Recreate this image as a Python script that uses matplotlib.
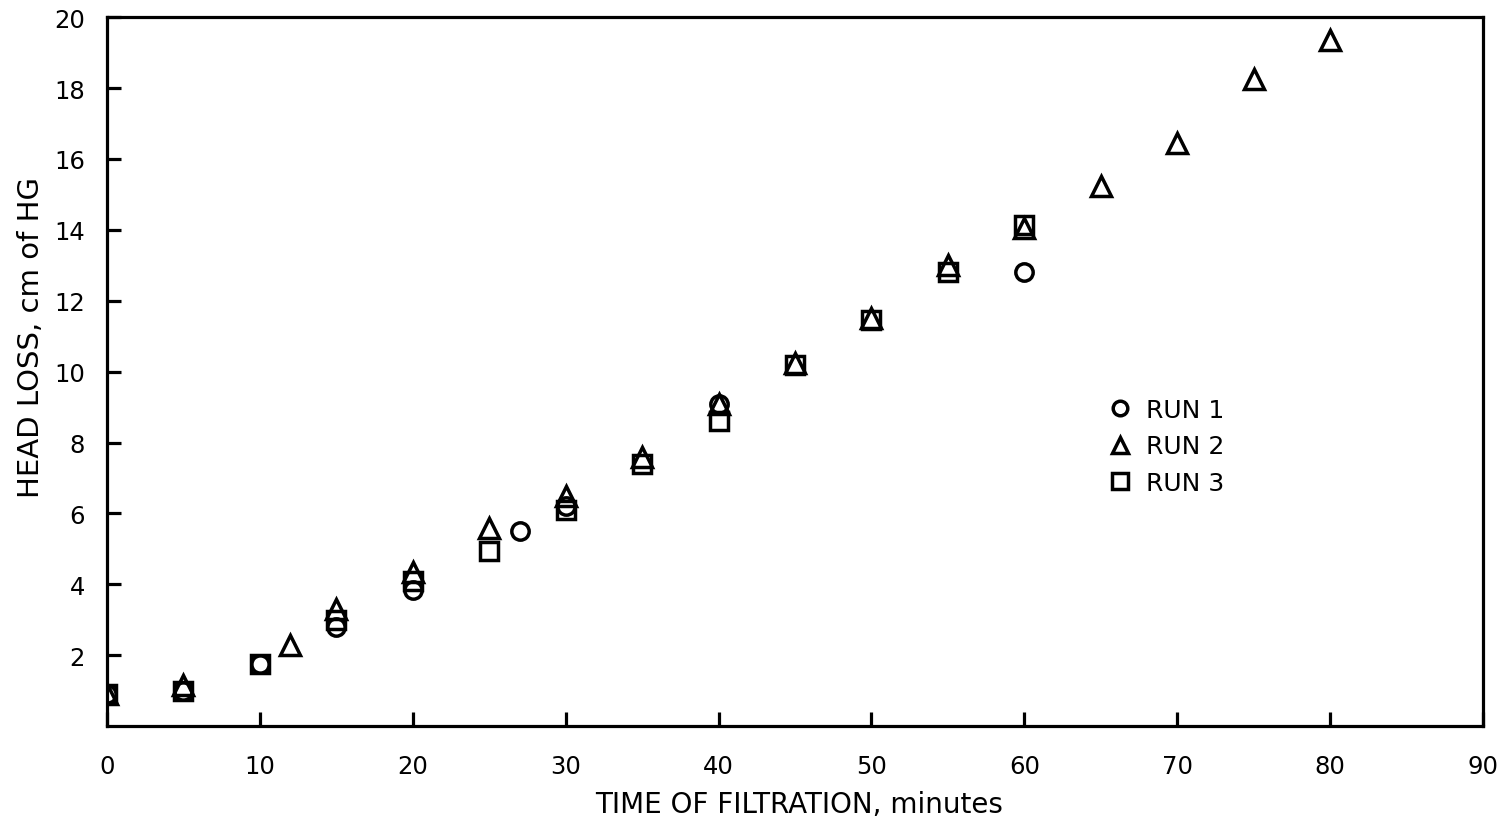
import matplotlib
matplotlib.use('Agg')
from matplotlib import pyplot as plt
from matplotlib.lines import Line2D

# head loss readings, cm of Hg, against filtration time in minutes
run1_time = [0, 5, 10, 15, 20, 27, 30, 40, 60]
run1_loss = [0.9, 1.0, 1.75, 2.8, 3.85, 5.5, 6.2, 9.1, 12.8]

run2_time = [0, 5, 12, 15, 20, 25, 30, 35, 40, 45, 50, 55, 60, 65, 70, 75, 80]
run2_loss = [0.9, 1.15, 2.3, 3.3, 4.35, 5.6, 6.5, 7.6, 9.1, 10.25, 11.5, 13.0, 14.05, 15.25, 16.45, 18.25, 19.35]

run3_time = [0, 5, 10, 15, 20, 25, 30, 35, 40, 45, 50, 55, 60]
run3_loss = [0.9, 1.0, 1.75, 3.0, 4.1, 4.95, 6.1, 7.4, 8.6, 10.2, 11.45, 12.8, 14.15]

run_names = ['RUN 1', 'RUN 2', 'RUN 3']
x_ticks = [0, 10, 20, 30, 40, 50, 60, 70, 80, 90]
y_ticks = [2, 4, 6, 8, 10, 12, 14, 16, 18, 20]

plt.rcParams['font.family'] = ['DejaVu Sans']

fig = plt.figure(figsize=(15.11, 8.29), dpi=100)
ax = fig.add_axes([0.0708, 0.123, 0.9107, 0.855])

style = dict(linestyle='none', markerfacecolor='none', markeredgecolor='black', markeredgewidth=2.5)
ax.plot(run1_time, run1_loss, marker='o', markersize=12.5, **style)
ax.plot(run2_time, run2_loss, marker='^', markersize=14, **style)
ax.plot(run3_time, run3_loss, marker='s', markersize=12.5, **style)

ax.set_xlim(0, 90)
ax.set_ylim(0, 20)
ax.set_xticks(x_ticks)
ax.set_yticks(y_ticks)
ax.set_xticklabels([str(t) for t in x_ticks], fontsize=17.5)
ax.set_yticklabels([str(t) for t in y_ticks], fontsize=17.5)
ax.tick_params(direction='in', length=10, width=2.3, pad=16)
ax.tick_params(axis='x', pad=20)

for side in ax.spines.values():
    side.set_linewidth(2.3)

ax.set_xlabel('TIME OF FILTRATION, minutes', fontsize=20)
ax.set_ylabel('HEAD LOSS, cm of HG', fontsize=21)
ax.xaxis.set_label_coords(0.503, -0.09)
ax.yaxis.set_label_coords(-0.045, 0.55)

# smaller symbols in the key than on the plot
key = [Line2D([], [], marker=m, markersize=s, **style)
       for m, s in [('o', 10.5), ('^', 12), ('s', 11)]]
ax.legend(key, run_names, loc='upper left', bbox_to_anchor=(0.72, 0.477), frameon=False,
          fontsize=18, handlelength=1.0, handletextpad=0.55, labelspacing=0.5, borderaxespad=0)

fig.savefig('out.png', dpi=100)
